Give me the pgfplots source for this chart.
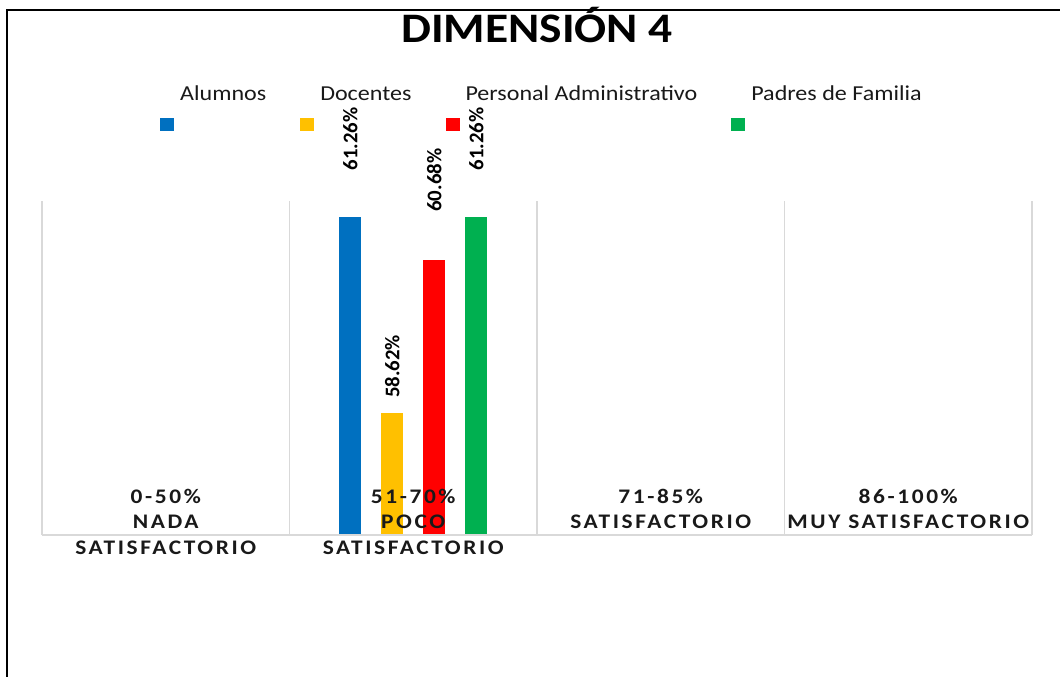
\documentclass[border=0pt]{standalone}
\usepackage{fontspec}
\setmainfont{Carlito}
\newfontfamily\titlefont{Carlito}[FakeStretch=1.13]
\newfontfamily\legfont{Carlito}[FakeStretch=1.13]
\newfontfamily\catfont{Carlito}[FakeStretch=1.13, LetterSpace=12.5]
\newfontfamily\lblfont{Carlito}
\usepackage{pgfplots}
\pgfplotsset{compat=1.18}
\definecolor{cblue}{HTML}{0070C0}
\definecolor{cyellow}{HTML}{FFC000}
\definecolor{cred}{HTML}{FF0000}
\definecolor{cgreen}{HTML}{00B050}
\definecolor{sepc}{HTML}{D9D9D9}
\pgfplotsset{
  sq/.style={legend image code/.code={\fill[#1] (0bp,-37.4bp) rectangle (14bp,-24.4bp);}},
  lbl/.style={nodes near coords={\pgfmathprintnumber[assume math mode=true,fixed,fixed zerofill,precision=2]{\pgfplotspointmeta}\%},
    every node near coord/.append style={font=\lblfont\bfseries\fontsize{20.8bp}{24bp}\selectfont, text=black, inner sep=0pt, yshift=#1, rotate=90, anchor=west}},
}
\begin{document}
\begin{tikzpicture}
\begin{axis}[
  at={(42bp,142bp)}, anchor=south west,
  scale only axis, width=990bp, height=334bp,
  xmin=-0.5, xmax=3.5, ymin=56.98, ymax=61.47,
  axis on top,
  axis x line=bottom, axis y line=none,
  x axis line style={sepc, line width=1.5bp, -},
  ytick=\empty,
  xtick={0,1,2,3},
  xticklabels={{0-50\%\\NADA\\SATISFACTORIO},{51-70\%\\POCO\\SATISFACTORIO},{71-85\%\\SATISFACTORIO},{86-100\%\\MUY SATISFACTORIO}},
  major tick length=0pt,
  xticklabel style={anchor=north, align=center, inner sep=0pt, yshift=46bp, font=\catfont\bfseries\fontsize{20.7bp}{25.5bp}\selectfont, text=black!90},
  extra x ticks={-0.5,0.5,1.5,2.5,3.5},
  extra x tick labels={},
  extra x tick style={grid=major, major grid style={sepc, line width=1.5bp}},
  ybar, bar width=22bp,
  legend columns=4,
  legend style={draw=none, fill=none, at={(0.1192,1.351)}, anchor=north west, inner sep=0pt,
    font=\legfont\fontsize{21.3bp}{24bp}\selectfont, text=black!90,
    /tikz/every odd column/.append style={column sep=4bp},
    /tikz/every even column/.append style={column sep=32bp}},
]
\addplot[fill=cblue, draw=none, bar shift=-63bp, sq=cblue, lbl=46bp] coordinates {(1,61.26)};
\addlegendentry{Alumnos}
\addplot[fill=cyellow, draw=none, bar shift=-21bp, sq=cyellow, lbl=15bp] coordinates {(1,58.62)};
\addlegendentry{Docentes}
\addplot[fill=cred, draw=none, bar shift=21bp, sq=cred, lbl=48bp] coordinates {(1,60.68)};
\addlegendentry{Personal Administrativo}
\addplot[fill=cgreen, draw=none, bar shift=63bp, sq=cgreen, lbl=46bp] coordinates {(1,61.26)};
\addlegendentry{Padres de Familia}
\end{axis}
\node[anchor=base, font=\titlefont\bfseries\fontsize{42bp}{48bp}\selectfont] at (537bp,634.3bp) {DIMENSIÓN 4};
\draw[line width=2.5bp] (7bp,-5bp) -- (7bp,667bp) -- (1070bp,667bp);
\pgfresetboundingbox
\path[use as bounding box] (0bp,0bp) rectangle (1060bp,677bp);
\end{tikzpicture}
\end{document}
